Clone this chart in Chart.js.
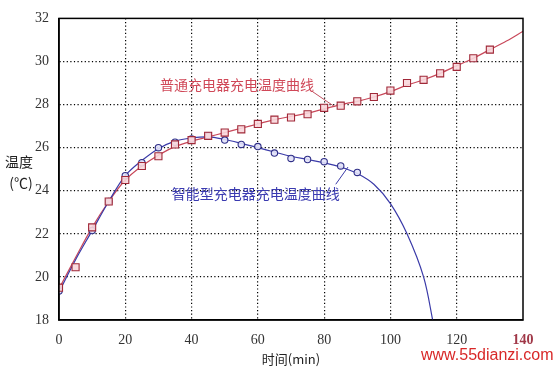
<!DOCTYPE html>
<html>
<head>
<meta charset="utf-8">
<style>
  html, body { margin: 0; padding: 0; background: #fff; }
  #wrap { width: 555px; height: 367px; }
</style>
<script src="https://cdn.jsdelivr.net/npm/chart.js@4/dist/chart.umd.min.js"></script>
</head>
<body>
<div id="wrap"><canvas id="chart"></canvas></div>
<script>
// measured points, ordinary charger (squares)
const timeRed = [0, 5, 10, 15, 20, 25, 30, 35, 40, 45, 50, 55, 60, 65, 70, 75, 80, 85, 90, 95, 100, 105, 110, 115, 120, 125, 130];
const tempRed = [19.5, 20.45, 22.3, 23.5, 24.5, 25.15, 25.6, 26.15, 26.35, 26.55, 26.7, 26.85, 27.1, 27.3, 27.4, 27.55, 27.85, 27.95, 28.15, 28.35, 28.65, 29.0, 29.15, 29.45, 29.75, 30.15, 30.55];

// measured points, smart charger (circles)
const timeBlue = [0, 10, 15, 20, 25, 30, 35, 40, 45, 50, 55, 60, 65, 70, 75, 80, 85, 90];
const tempBlue = [19.35, 22.15, 23.5, 24.7, 25.3, 26.0, 26.25, 26.4, 26.55, 26.35, 26.15, 26.05, 25.75, 25.5, 25.45, 25.35, 25.15, 24.85];

// fitted curves
const fitTimeRed = [0, 5, 10, 15, 20, 25, 30, 35, 40, 45, 50, 55, 60, 65, 70, 75, 80, 85, 90, 95, 100, 105, 110, 115, 120, 125, 130, 135, 140];
const fitRed = [19.45, 20.9, 22.3, 23.5, 24.5, 25.15, 25.65, 26.05, 26.3, 26.5, 26.7, 26.9, 27.1, 27.3, 27.45, 27.6, 27.8, 28.0, 28.15, 28.35, 28.6, 28.9, 29.15, 29.45, 29.8, 30.15, 30.55, 30.95, 31.4];
const fitTimeBlue = [0, 5, 10, 15, 20, 25, 30, 35, 40, 45, 50, 55, 60, 65, 70, 75, 80, 85, 90, 95, 100, 105, 110, 113];
const fitBlue = [19.3, 20.8, 22.15, 23.5, 24.7, 25.4, 25.95, 26.3, 26.45, 26.5, 26.38, 26.2, 26.0, 25.8, 25.6, 25.45, 25.3, 25.1, 24.8, 24.3, 23.4, 22.0, 20.0, 17.8];

const xTicks = [0, 20, 40, 60, 80, 100, 120, 140];
const yTicks = [18, 20, 22, 24, 26, 28, 30, 32];

const labelRed = '普通充电器充电温度曲线';
const labelBlue = '智能型充电器充电温度曲线';

function pts(xs, ys) {
  return xs.map((x, i) => ({ x: x, y: ys[i] }));
}

const RED = '#c8485a';
const BLUE = '#3a3aa8';
const numFont = { family: '"Liberation Serif", "DejaVu Serif", serif', size: 14 };
const cjk = '"Noto Sans CJK SC", "Noto Sans", sans-serif';

const extras = {
  id: 'extras',
  afterDraw(chart) {
    const ctx = chart.ctx;
    const a = chart.chartArea;
    const xs = chart.scales.x, ys = chart.scales.y;
    ctx.save();
    // frame
    ctx.strokeStyle = '#000';
    ctx.lineWidth = 1.5;
    ctx.strokeRect(a.left, a.top, a.right - a.left, a.bottom - a.top);

    // curve labels + leader lines
    ctx.font = '14px ' + cjk;
    ctx.textBaseline = 'middle';
    ctx.fillStyle = '#d04858';
    ctx.fillText(labelRed, xs.getPixelForValue(30.5), ys.getPixelForValue(28.9));
    ctx.fillStyle = '#3a3ab0';
    ctx.fillText(labelBlue, xs.getPixelForValue(34), ys.getPixelForValue(23.85));

    ctx.lineWidth = 1;
    ctx.strokeStyle = '#c05060';
    ctx.beginPath();
    ctx.moveTo(xs.getPixelForValue(76.5), ys.getPixelForValue(28.6));
    ctx.lineTo(xs.getPixelForValue(83.2), ys.getPixelForValue(27.9));
    ctx.stroke();
    ctx.strokeStyle = BLUE;
    ctx.beginPath();
    ctx.moveTo(xs.getPixelForValue(83.5), ys.getPixelForValue(24.3));
    ctx.lineTo(xs.getPixelForValue(87.2), ys.getPixelForValue(25.1));
    ctx.stroke();

    // y axis title
    ctx.fillStyle = '#222';
    ctx.textAlign = 'center';
    ctx.font = '14px ' + cjk;
    ctx.fillText('温度', 19, 162);
    ctx.fillText('(℃)', 21, 183);

    // watermark
    ctx.fillStyle = '#d82828';
    ctx.font = '16px "Liberation Sans", Arial, sans-serif';
    ctx.textAlign = 'left';
    ctx.fillText('www.55dianzi.com', 421, 356);
    ctx.restore();
  }
};

const gridColor = (lo, hi) => (c) => (c.tick && (c.tick.value === lo || c.tick.value === hi)) ? 'rgba(0,0,0,0)' : '#000';

new Chart(document.getElementById('chart'), {
  type: 'scatter',
  data: {
    datasets: [
      {
        label: 'fitRed',
        data: pts(fitTimeRed, fitRed),
        showLine: true,
        borderColor: RED,
        borderWidth: 1.2,
        pointRadius: 0,
        tension: 0.35,
        order: 4
      },
      {
        label: 'fitBlue',
        data: pts(fitTimeBlue, fitBlue),
        showLine: true,
        borderColor: BLUE,
        borderWidth: 1.2,
        pointRadius: 0,
        tension: 0.35,
        order: 3
      },
      {
        label: 'blue',
        data: pts(timeBlue, tempBlue),
        pointStyle: 'circle',
        pointRadius: 3.2,
        borderColor: '#303088',
        backgroundColor: 'rgba(225,225,248,0.9)',
        borderWidth: 1.1,
        order: 2
      },
      {
        label: 'red',
        data: pts(timeRed, tempRed),
        pointStyle: 'rect',
        pointRadius: 5,
        borderColor: '#a02838',
        backgroundColor: 'rgba(248,215,220,0.9)',
        borderWidth: 1.1,
        order: 1
      }
    ]
  },
  options: {
    responsive: true,
    maintainAspectRatio: false,
    animation: false,
    events: [],
    layout: { padding: { top: 15, right: 32, left: 0, bottom: 0 } },
    plugins: {
      legend: { display: false },
      tooltip: { enabled: false }
    },
    scales: {
      x: {
        type: 'linear',
        min: 0,
        max: 140,
        afterBuildTicks: (s) => { s.ticks = xTicks.map(v => ({ value: v })); },
        afterFit: (s) => { s.height = 47; },
        grid: { color: gridColor(0, 140), lineWidth: 1.2, drawTicks: false },
        border: { display: true, color: '#000', width: 1.5, dash: [1.2, 2.4] },
        ticks: {
          padding: 12,
          font: (c) => c.tick && c.tick.value === 140 ? Object.assign({}, numFont, { weight: 'bold' }) : numFont,
          color: (c) => c.tick && c.tick.value === 140 ? '#a03848' : '#333'
        },
        title: {
          display: true,
          text: '时间(min)',
          font: { family: cjk, size: 13 },
          color: '#222',
          padding: { top: 2, bottom: 0 }
        }
      },
      y: {
        min: 18,
        max: 32,
        afterBuildTicks: (s) => { s.ticks = yTicks.map(v => ({ value: v })); },
        afterFit: (s) => { s.width = 59; },
        grid: { color: gridColor(18, 32), lineWidth: 1.2, drawTicks: false },
        border: { display: true, color: '#000', width: 1.5, dash: [1.2, 2.4] },
        ticks: { padding: 10, font: numFont, color: '#333' }
      }
    }
  },
  plugins: [extras]
});
</script>
</body>
</html>
